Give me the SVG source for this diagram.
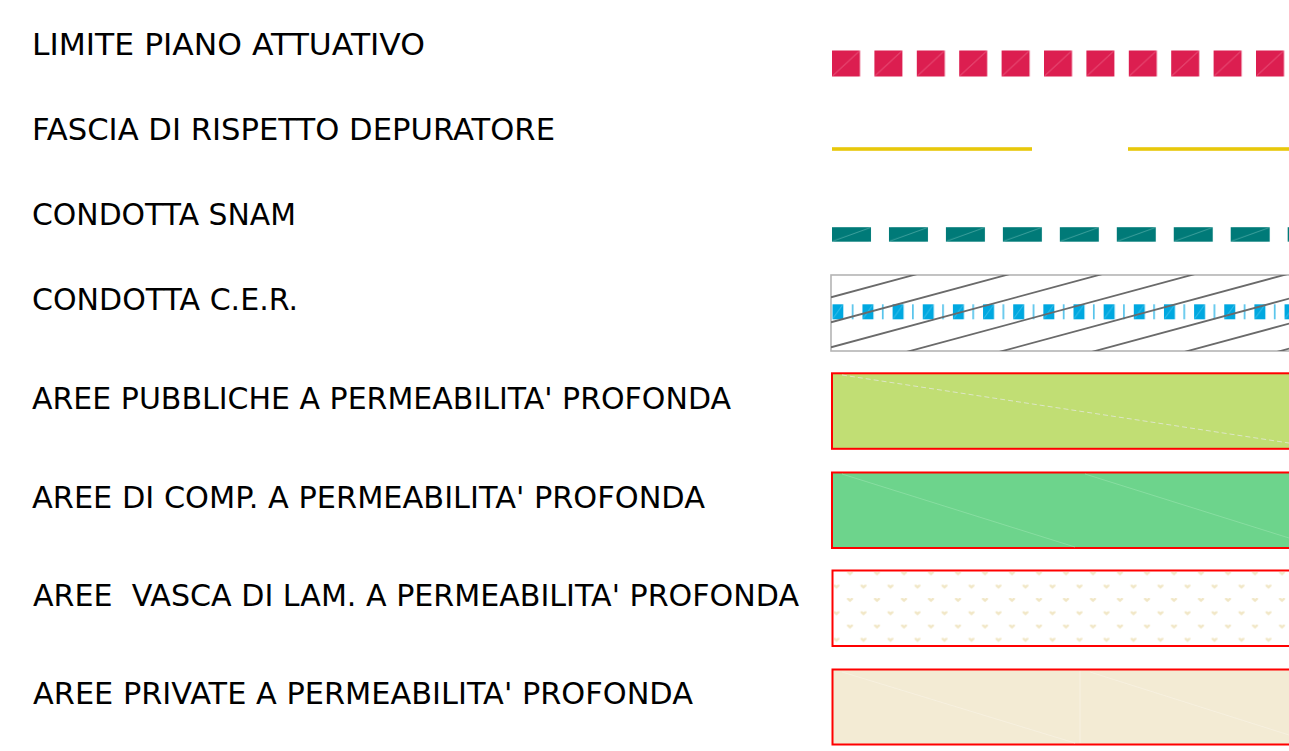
<svg xmlns="http://www.w3.org/2000/svg" width="1289" height="751" viewBox="0 0 1289 751">
<style>
  .lbl { font-family: "DejaVu Sans", "Liberation Sans", sans-serif; font-size: 30.2px; fill: #000; white-space: pre; }
  .area { stroke: #ff0000; stroke-width: 2; }
  .hatch { stroke: #6a6a6a; stroke-width: 1.8; }
</style>
<defs>
  <pattern id="pRed" patternUnits="userSpaceOnUse" x="832" y="50.5" width="42.4" height="26">
    <rect x="0" y="0" width="28" height="26" fill="#dc1e50"/>
    <line x1="0.5" y1="25.5" x2="27.5" y2="0.5" stroke="#ef6a8c" stroke-width="0.8"/>
  </pattern>
  <pattern id="pTeal" patternUnits="userSpaceOnUse" x="832" y="227.2" width="56.96" height="14.5">
    <rect x="0" y="0" width="39" height="14.5" fill="#007a78"/>
    <line x1="0.5" y1="14" x2="38.5" y2="0.5" stroke="#4aa8a4" stroke-width="0.8"/>
  </pattern>
  <pattern id="pBlue" patternUnits="userSpaceOnUse" x="832.3" y="304.3" width="30.15" height="15">
    <rect x="0" y="0" width="11" height="15" fill="#00a8e0"/>
    <line x1="0.5" y1="14.5" x2="10.5" y2="0.5" stroke="#5cc9ee" stroke-width="0.7"/>
    <rect x="19.5" y="0" width="1.6" height="15" fill="#4cc0ea"/>
  </pattern>
  <pattern id="pDots" patternUnits="userSpaceOnUse" x="829.75" y="566.5" width="27" height="26.6">
    <path d="M17.25,5 h2 l1,1 l1,-1 h2 v1.5 l-3,2.5 l-3,-2.5z" fill="#f1e7c6"/>
    <path d="M3.75,18.3 h2 l1,1 l1,-1 h2 v1.5 l-3,2.5 l-3,-2.5z" fill="#f1e7c6"/>
  </pattern>
  <clipPath id="cerClip">
    <rect x="831" y="275" width="470" height="76"/>
  </clipPath>
</defs>

<g id="limite-piano-attuativo">
  <text class="lbl" x="32" y="55" textLength="393" lengthAdjust="spacingAndGlyphs">LIMITE PIANO ATTUATIVO</text>
  <rect x="832" y="50.5" width="457" height="26" fill="url(#pRed)"/>
</g>

<g id="fascia-rispetto-depuratore">
  <text class="lbl" x="32" y="140" textLength="523" lengthAdjust="spacingAndGlyphs">FASCIA DI RISPETTO DEPURATORE</text>
  <rect x="832" y="147.2" width="200" height="3.6" fill="#e8c80a"/>
  <rect x="1128" y="147.2" width="161" height="3.6" fill="#e8c80a"/>
</g>

<g id="condotta-snam">
  <text class="lbl" x="32" y="225" textLength="264" lengthAdjust="spacingAndGlyphs">CONDOTTA SNAM</text>
  <rect x="832" y="227.2" width="457" height="14.5" fill="url(#pTeal)"/>
</g>

<g id="condotta-cer">
  <text class="lbl" x="32" y="310" textLength="266" lengthAdjust="spacingAndGlyphs">CONDOTTA C.E.R.</text>
  <rect x="831" y="275" width="470" height="76" fill="#ffffff" stroke="#b4b4b4" stroke-width="1.6"/>
  <rect x="832.3" y="304.3" width="457" height="15" fill="url(#pBlue)"/>
  <g clip-path="url(#cerClip)" class="hatch">
    <line x1="831" y1="297.3" x2="1300" y2="170.7"/>
    <line x1="831" y1="322.3" x2="1300" y2="195.7"/>
    <line x1="831" y1="347.3" x2="1300" y2="220.7"/>
    <line x1="831" y1="372.3" x2="1300" y2="245.7"/>
    <line x1="831" y1="397.3" x2="1300" y2="270.7"/>
    <line x1="831" y1="422.3" x2="1300" y2="295.7"/>
    <line x1="831" y1="447.3" x2="1300" y2="320.7"/>
    <line x1="831" y1="472.3" x2="1300" y2="345.7"/>
  </g>
</g>

<g id="aree-pubbliche">
  <text class="lbl" x="32" y="409" textLength="699" lengthAdjust="spacingAndGlyphs">AREE PUBBLICHE A PERMEABILITA' PROFONDA</text>
  <rect class="area" x="832" y="373.3" width="470" height="75.5" fill="#c1de74"/>
  <line x1="842" y1="375" x2="1289" y2="443" stroke="#dde6c6" stroke-width="1" stroke-dasharray="5 3"/>
</g>

<g id="aree-comp">
  <text class="lbl" x="32" y="508" textLength="673" lengthAdjust="spacingAndGlyphs">AREE DI COMP. A PERMEABILITA' PROFONDA</text>
  <rect class="area" x="832" y="472.5" width="470" height="75.5" fill="#6dd48c"/>
  <line x1="842" y1="474" x2="1075" y2="547" stroke="#8ee0a6" stroke-width="0.8"/>
  <line x1="1085" y1="474" x2="1289" y2="538" stroke="#8ee0a6" stroke-width="0.8"/>
</g>

<g id="aree-vasca">
  <text class="lbl" x="33" y="606" textLength="766" lengthAdjust="spacingAndGlyphs" xml:space="preserve">AREE  VASCA DI LAM. A PERMEABILITA' PROFONDA</text>
  <rect class="area" x="832.5" y="570.5" width="470" height="75.5" fill="#ffffff"/>
  <rect x="834" y="572" width="460" height="72.5" fill="url(#pDots)"/>
</g>

<g id="aree-private">
  <text class="lbl" x="33" y="704" textLength="660" lengthAdjust="spacingAndGlyphs">AREE PRIVATE A PERMEABILITA' PROFONDA</text>
  <rect class="area" x="832.5" y="669.5" width="470" height="75" fill="#f3ebd4"/>
  <line x1="1080" y1="671" x2="1080" y2="743" stroke="#f7f1e2" stroke-width="1"/>
  <line x1="842" y1="672" x2="1075" y2="743" stroke="#f7f1e2" stroke-width="0.8"/>
  <line x1="1090" y1="672" x2="1289" y2="735" stroke="#f7f1e2" stroke-width="0.8"/>
</g>
</svg>
